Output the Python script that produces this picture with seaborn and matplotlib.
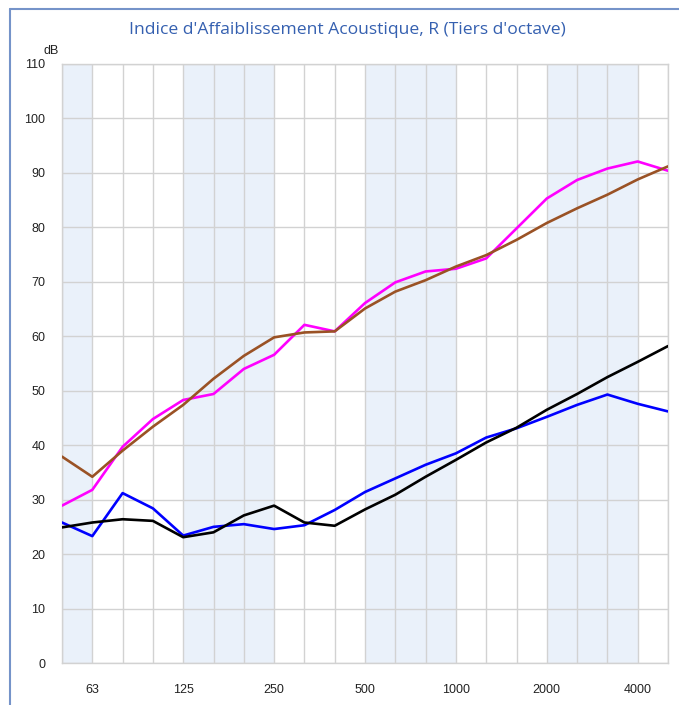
import matplotlib
matplotlib.use('Agg')
import matplotlib.pyplot as plt
from matplotlib.lines import Line2D
import seaborn as sns
import pandas as pd
import numpy as np

# --- DATA ---
BANDS = [50, 63, 80, 100, 125, 160, 200, 250, 315, 400, 500,
         630, 800, 1000, 1250, 1600, 2000, 2500, 3150, 4000, 5000]
TICK_BANDS = [63, 125, 250, 500, 1000, 2000, 4000]

r_magenta = [28.9, 31.8, 39.7, 44.8, 48.3, 49.4, 54.0, 56.6, 62.1, 60.9, 66.1,
             69.9, 71.9, 72.4, 74.3, 79.8, 85.3, 88.7, 90.8, 92.1, 90.4]
r_brown   = [37.9, 34.2, 39.0, 43.4, 47.4, 52.2, 56.4, 59.8, 60.7, 60.9, 65.1,
             68.2, 70.3, 72.8, 74.9, 77.7, 80.8, 83.5, 86.0, 88.8, 91.2]
r_blue    = [25.8, 23.3, 31.2, 28.4, 23.4, 25.0, 25.5, 24.6, 25.3, 28.1, 31.4,
             33.9, 36.4, 38.5, 41.4, 43.1, 45.2, 47.4, 49.3, 47.6, 46.2]
r_black   = [24.9, 25.8, 26.4, 26.1, 23.1, 24.0, 27.1, 28.9, 25.8, 25.2, 28.2,
             30.9, 34.2, 37.3, 40.5, 43.2, 46.5, 49.4, 52.5, 55.3, 58.2]

SERIES = {'magenta': r_magenta, 'brown': r_brown, 'blue': r_blue, 'black': r_black}
COLORS = {'magenta': '#FF00FF', 'brown': '#9A5225', 'blue': '#0000FF', 'black': '#000000'}

# long-form table, x = band index (equal spacing per third octave)
rows = []
for name, vals in SERIES.items():
    for i, v in enumerate(vals):
        rows.append({'idx': i, 'R': v, 'serie': name})
df = pd.DataFrame(rows)

# --- PLOT ---
sns.set_style('white')
plt.rcParams['font.family'] = ['Liberation Sans', 'DejaVu Sans']

fig = plt.figure(figsize=(6.79, 7.05), dpi=100)
ax = fig.add_axes([62 / 679, 42 / 705, 606 / 679, 599 / 705])

# shaded alternate octaves
for a, b in [(0, 1), (4, 7), (10, 13), (16, 19)]:
    ax.axvspan(a, b, color='#EAF1FA', zorder=0, lw=0)

sns.lineplot(data=df, x='idx', y='R', hue='serie', palette=COLORS,
             linewidth=1.9, legend=False, ax=ax, zorder=3)

ax.set_xlim(0, len(BANDS) - 1)
ax.set_ylim(0, 110)
ax.set_yticks(np.arange(0, 111, 10))
ax.set_xticks(range(len(BANDS)), minor=True)
ax.set_xticks([BANDS.index(b) for b in TICK_BANDS])
ax.set_xticklabels([str(b) for b in TICK_BANDS])

ax.grid(True, which='both', axis='x', color='#D2D2D2', lw=1.0, zorder=1)
ax.grid(True, which='major', axis='y', color='#D2D2D2', lw=1.0, zorder=1)
ax.set_axisbelow(True)
for s in ax.spines.values():
    s.set_color('#D2D2D2')
    s.set_linewidth(1.0)

ax.tick_params(axis='both', which='major', length=7, width=1.0, color='#C8C8C8',
               labelsize=9, labelcolor='#222222', pad=5)
ax.tick_params(axis='x', which='minor', length=0)
ax.tick_params(axis='x', which='major', pad=8)
ax.set_xlabel('')
ax.set_ylabel('')

fig.text(43 / 679, 1 - 51 / 705, 'dB', ha='left', va='center',
         fontsize=9, color='#222222')

fig.text(347 / 679, 1 - 30 / 705, "Indice d'Affaiblissement Acoustique, R (Tiers d'octave)",
         ha='center', va='center', fontsize=12.6, color='#3560B0',
         family=['Open Sans', 'DejaVu Sans'])

# window frame (top and left edges)
fig.add_artist(Line2D([10 / 679, 1], [1 - 9 / 705, 1 - 9 / 705],
                      transform=fig.transFigure, color='#7593C9', lw=1.5))
fig.add_artist(Line2D([10 / 679, 10 / 679], [0, 1 - 9 / 705],
                      transform=fig.transFigure, color='#7593C9', lw=1.5))

plt.savefig('out.png', dpi=100)
